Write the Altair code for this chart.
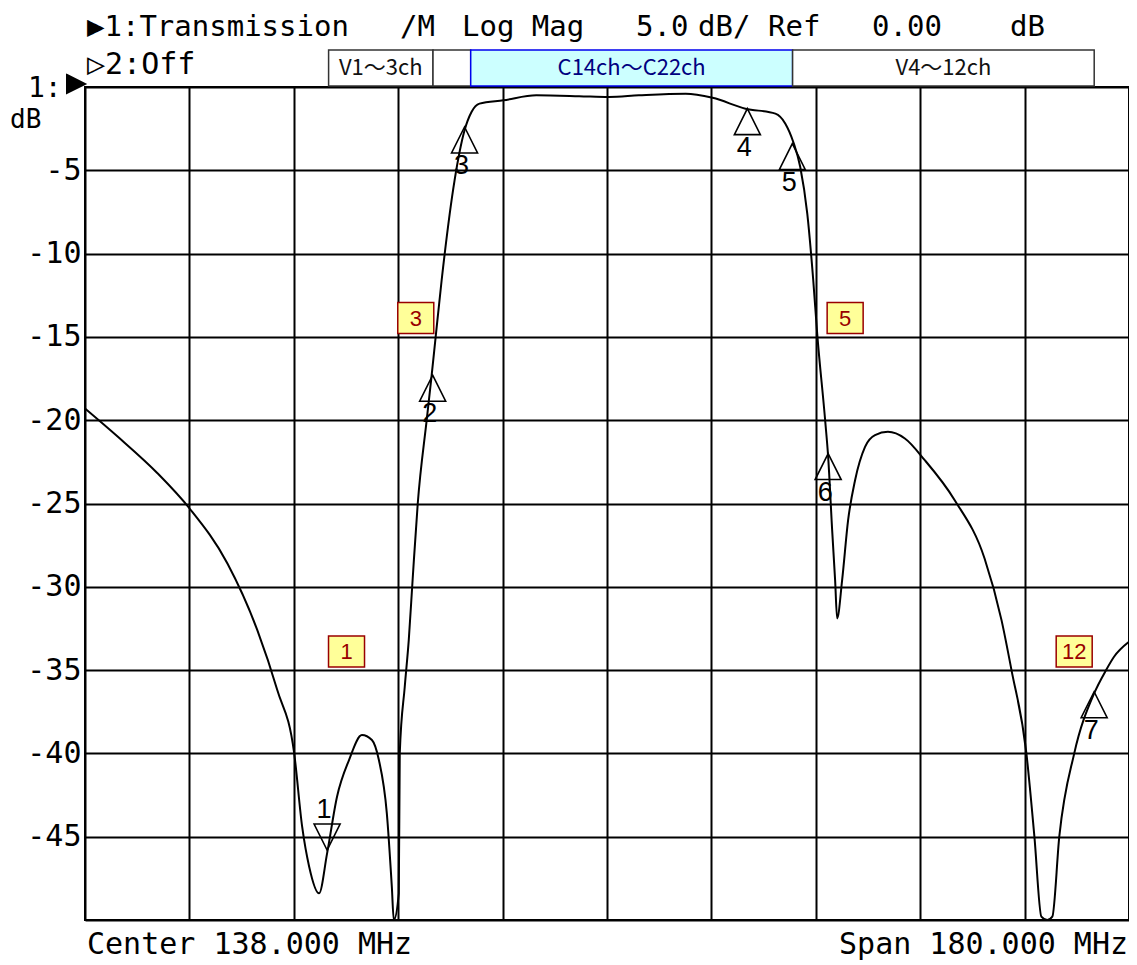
import altair as alt
import pandas as pd

# ---- trace (frequency in MHz, level in dB) ----
freq = [48.0, 53.67, 60.54, 66.03, 72.56, 77.71, 81.15, 84.07, 85.44, 86.65,
        88.36, 89.74, 91.45, 93.52, 95.75, 97.47, 98.67, 100.04, 100.90, 101.24,
        102.10, 102.27, 103.13, 103.82, 104.50, 105.37, 106.91, 107.77, 108.46, 109.49,
        111.72, 113.44, 114.64, 116.01, 120.14, 125.81, 133.19, 138.35, 143.50, 151.57,
        156.21, 161.88, 167.03, 168.75, 170.12, 171.32, 172.53, 173.56, 174.24, 175.61,
        176.13, 176.82, 177.33, 177.68, 178.54, 179.57, 180.77, 182.49, 184.21, 186.44,
        189.36, 192.79, 197.95, 203.10, 206.02, 207.74, 210.31, 211.69, 212.89, 213.92,
        214.78, 215.98, 218.56, 221.99, 224.05, 225.42, 228.0]
db = [-19.3, -21.0, -23.2, -25.3, -28.6, -32.6, -36.2, -40.0, -44.4, -46.8,
      -48.4, -46.0, -42.6, -40.4, -38.9, -39.2, -40.4, -43.6, -48.0, -50.0,
      -48.4, -40.0, -36.0, -33.2, -29.5, -25.0, -20.0, -17.3, -15.0, -11.6,
      -5.6, -2.6, -1.5, -1.0, -0.8, -0.5, -0.55, -0.6, -0.5, -0.4,
      -0.65, -1.3, -1.6, -2.2, -3.3, -4.8, -7.6, -11.6, -14.8, -20.0,
      -22.2, -26.6, -29.6, -31.9, -29.6, -26.0, -23.6, -21.6, -20.9, -20.7,
      -21.1, -22.4, -24.8, -28.3, -32.0, -35.0, -40.0, -45.0, -49.8, -50.0,
      -49.8, -45.0, -40.0, -36.4, -35.0, -34.2, -33.3]

x_ticks = [48, 66, 84, 102, 120, 138, 156, 174, 192, 210, 228]
y_ticks = [-50, -45, -40, -35, -30, -25, -20, -15, -10, -5, 0]

# ---- markers ----
mk_num = ["1", "2", "3", "4", "5", "6", "7"]
mk_freq = [89.74, 107.94, 113.44, 162.2, 169.95, 176.13, 221.99]
mk_db = [-45.8, -17.3, -2.4, -1.3, -3.4, -22.0, -36.3]
mk_dir = ["down", "up", "up", "up", "up", "up", "up"]

# ---- channel number tags ----
ch_label = ["1", "3", "5", "12"]
ch_freq = [93.09, 105.03, 179.06, 218.55]
ch_db = [-33.88, -13.87, -13.87, -33.88]

# ---- band boxes ----
band_label = ["V1〜3ch", " ", "C14ch〜C22ch", "V4〜12ch"]
band_start = [90, 108, 114.5, 170]
band_end = [108, 114.5, 170, 222]

MONO = "DejaVu Sans Mono"
W, H = 1044, 833

xs = alt.Scale(domain=[48, 228], nice=False, zero=False)
ys = alt.Scale(domain=[-50, 0], nice=False, zero=False)

trace = pd.DataFrame({"freq": freq, "db": db})
markers = pd.DataFrame({"num": mk_num, "freq": mk_freq, "db": mk_db, "dir": mk_dir})
tags = pd.DataFrame({"label": ch_label, "freq": ch_freq, "db": ch_db})
bands = pd.DataFrame({"label": band_label, "start": band_start, "end": band_end})

line = alt.Chart(trace).mark_line(color="black", strokeWidth=2, clip=True,
                                  interpolate="monotone").encode(
    x=alt.X("freq:Q", scale=xs,
            axis=alt.Axis(values=x_ticks, grid=True, labels=False, ticks=False,
                          domain=False, title=None, gridColor="black",
                          gridWidth=2, gridOpacity=1)),
    y=alt.Y("db:Q", scale=ys,
            axis=alt.Axis(values=y_ticks, grid=True, ticks=False, domain=False,
                          title=None, gridColor="black", gridWidth=2, gridOpacity=1,
                          labelExpr="datum.value == 0 || datum.value == -50 ? '' : '' + datum.value",
                          labelFont=MONO, labelFontSize=30, labelColor="black",
                          labelPadding=4, labelOverlap=False, labelFlush=False,
                          labelBaseline="middle")),
)

up = markers[markers["dir"] == "up"]
down = markers[markers["dir"] == "down"]

tri_up = alt.Chart(up).mark_point(
    shape="M0,-1L1,1L-1,1Z", size=676, filled=False, stroke="black",
    strokeWidth=1.6, opacity=1, yOffset=13
).encode(x=alt.X("freq:Q", scale=xs), y=alt.Y("db:Q", scale=ys))

tri_down = alt.Chart(down).mark_point(
    shape="M0,1L1,-1L-1,-1Z", size=676, filled=False, stroke="black",
    strokeWidth=1.6, opacity=1, yOffset=-13
).encode(x=alt.X("freq:Q", scale=xs), y=alt.Y("db:Q", scale=ys))

lab_up = alt.Chart(up).mark_text(
    font="Liberation Sans", fontSize=27, color="black", baseline="top",
    dy=26, dx=-3
).encode(x=alt.X("freq:Q", scale=xs), y=alt.Y("db:Q", scale=ys), text="num:N")

lab_down = alt.Chart(down).mark_text(
    font="Liberation Sans", fontSize=27, color="black", baseline="bottom",
    dy=-26, dx=-3
).encode(x=alt.X("freq:Q", scale=xs), y=alt.Y("db:Q", scale=ys), text="num:N")

tag_box = alt.Chart(tags).mark_point(
    shape="M-1,-0.861L1,-0.861L1,0.861L-1,0.861Z", size=1296, filled=True,
    fill="#FFFF99", stroke="#990000", strokeWidth=1.5, opacity=1
).encode(x=alt.X("freq:Q", scale=xs), y=alt.Y("db:Q", scale=ys))

tag_text = alt.Chart(tags).mark_text(
    font="Liberation Sans", fontSize=22, color="#990000", baseline="middle", dy=1
).encode(x=alt.X("freq:Q", scale=xs), y=alt.Y("db:Q", scale=ys), text="label:N")

band_rect = alt.Chart(bands).mark_rect(strokeWidth=1.5).encode(
    x=alt.X("start:Q", scale=xs), x2="end:Q",
    y=alt.value(-37), y2=alt.value(-1),
    fill=alt.Fill("label:N", scale=alt.Scale(domain=band_label,
                  range=["white", "white", "#CCFFFF", "white"]), legend=None),
    stroke=alt.Stroke("label:N", scale=alt.Scale(domain=band_label,
                      range=["#333333", "#333333", "#0000EE", "#333333"]), legend=None),
)

band_text = alt.Chart(bands).transform_calculate(
    mid="(datum.start + datum.end) / 2"
).mark_text(font="Noto Sans CJK JP", fontSize=22, baseline="middle").encode(
    x=alt.X("mid:Q", scale=xs), y=alt.value(-19), text="label:N",
    color=alt.Color("label:N", scale=alt.Scale(domain=band_label,
                    range=["#111111", "#111111", "#000080", "#111111"]), legend=None),
)


def txt(s, x, y, size=30, align="left", font=MONO, baseline="alphabetic"):
    return alt.Chart(pd.DataFrame({"t": [s]})).mark_text(
        align=align, baseline=baseline, font=font, fontSize=size, color="black"
    ).encode(x=alt.value(x), y=alt.value(y), text="t:N")


HY = -51
header = [
    txt("▶1:Transmission", 2, HY, size=29),
    txt("/M", 315, HY, size=29),
    txt("Log Mag", 377, HY, size=29),
    txt("5.0", 551, HY, size=29),
    txt("dB/", 613, HY, size=29),
    txt("Ref", 683, HY, size=29),
    txt("0.00", 787, HY, size=29),
    txt("dB", 925, HY, size=29),
    txt("▷2:Off", 2, -13),
    txt("1:", -57, 10, size=28),
    txt("dB", -75, 41, size=26),
    txt("Center 138.000 MHz", 2, 867),
    txt("Span 180.000 MHz", 1043, 867, align="right"),
]

ref_arrow = alt.Chart(pd.DataFrame({"t": [0]})).mark_point(
    shape="M-1,-1L1,0L-1,1Z", size=324, filled=True, fill="black",
    stroke="black", opacity=1
).encode(x=alt.value(-9), y=alt.value(-3))

chart = alt.layer(
    line, band_rect, band_text, tri_up, tri_down, lab_up, lab_down,
    tag_box, tag_text, ref_arrow, *header
).properties(
    width=W, height=H,
    padding={"left": 77, "top": 79, "right": 0, "bottom": 45},
    autosize=alt.AutoSizeParams(type="none"),
    background="white",
).configure_view(stroke="black", strokeWidth=2)

chart.save("out.html", embed_options={"renderer": "svg", "actions": False})
